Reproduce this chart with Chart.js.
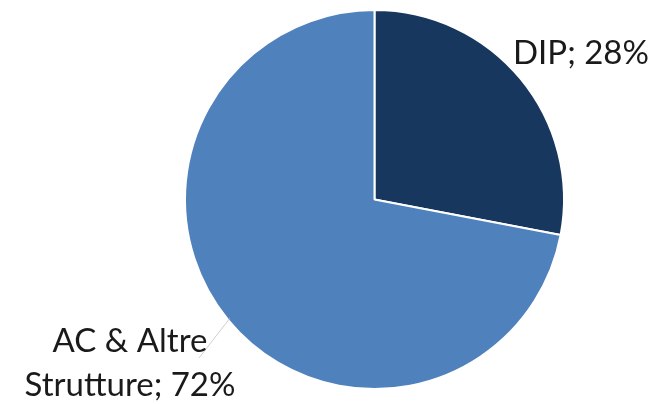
<!DOCTYPE html>
<html>
<head>
<meta charset="utf-8">
<script src="https://cdn.jsdelivr.net/npm/chart.js@4/dist/chart.umd.min.js"></script>
<style>
  html, body { margin: 0; padding: 0; background: #ffffff; }
  #wrap { width: 649px; height: 404px; position: relative; }
</style>
</head>
<body>
<div id="wrap"><canvas id="c" width="649" height="404"></canvas></div>
<script>
// Quota per tipologia
const categories = ["DIP", "AC & Altre Strutture"];
const shares = [28, 72];
const sliceColors = ["#17375E", "#4F81BD"];
// Etichette: righe di testo per ciascuna fetta
const labelLines = [["DIP; 28%"], ["AC & Altre", "Strutture; 72%"]];

const FONT = "Lato, 'Open Sans', 'Liberation Sans', sans-serif";

const labelPlugin = {
  id: "sliceLabels",
  afterDatasetsDraw(chart) {
    const ctx = chart.ctx;
    const meta = chart.getDatasetMeta(0);
    const arc0 = meta.data[0];
    const cx = arc0.x, cy = arc0.y, r = arc0.outerRadius;
    ctx.save();
    ctx.fillStyle = "#1a1a1a";
    ctx.font = "33px " + FONT;
    ctx.textBaseline = "alphabetic";

    // DIP label, outside the upper right of its slice
    ctx.textAlign = "left";
    ctx.fillText(labelLines[0][0], cx + 138.5, cy - 136);

    // Leader line for the larger slice
    const a = (230.6 - 90) * Math.PI / 180;
    const ex = cx + Math.cos(a) * (r - 2);
    const ey = cy + Math.sin(a) * (r - 2);
    ctx.strokeStyle = "#cfcfcf";
    ctx.lineWidth = 1;
    ctx.beginPath();
    ctx.moveTo(cx - 175.5, cy + 158.5);
    ctx.lineTo(ex, ey);
    ctx.stroke();

    // Two-line label for the larger slice
    ctx.textAlign = "center";
    ctx.fillText(labelLines[1][0], cx - 244.5, cy + 152);
    ctx.fillText(labelLines[1][1], cx - 244.5, cy + 196);
    ctx.restore();
  }
};

new Chart(document.getElementById("c"), {
  type: "pie",
  data: {
    labels: categories,
    datasets: [{
      data: shares,
      backgroundColor: sliceColors,
      borderColor: "#ffffff",
      borderWidth: 2
    }]
  },
  options: {
    responsive: false,
    animation: false,
    layout: { padding: { left: 184, right: 84, top: 9, bottom: 14 } },
    plugins: {
      legend: { display: false },
      tooltip: { enabled: false }
    }
  },
  plugins: [labelPlugin]
});
</script>
</body>
</html>
